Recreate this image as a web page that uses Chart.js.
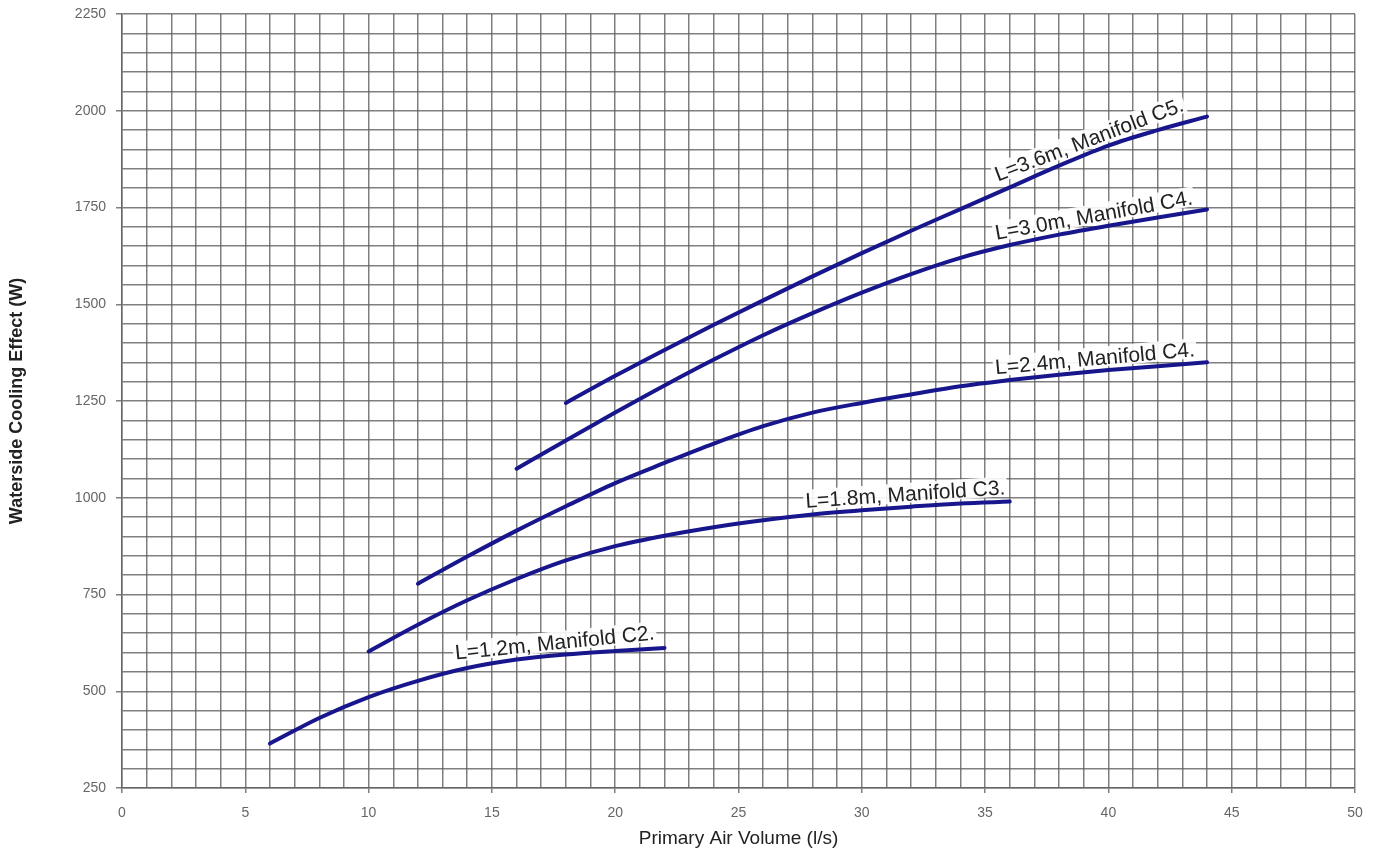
<!DOCTYPE html>
<html lang="en">
<head>
<meta charset="utf-8">
<title>Waterside Cooling Effect</title>
<script src="https://cdn.jsdelivr.net/npm/chart.js@4"></script>
<style>
  html, body { margin: 0; padding: 0; background: #fff; }
  #wrap { width: 1381px; height: 855px; }
</style>
</head>
<body>
<div id="wrap"><canvas id="myChart"></canvas></div>
<script>
// values (x = l/s, y = W)
const x_c2 = [6, 8, 10, 12, 14, 16, 18, 20, 22];
const y_c2 = [365, 431, 485, 527, 560, 582, 595, 604, 612];

const x_c3 = [10, 12, 14, 16, 18, 20, 22, 24, 26, 28, 30, 32, 34, 36];
const y_c3 = [603, 672, 735, 790, 838, 875, 902, 924, 942, 957, 968, 977, 985, 990];

const x_24 = [12, 14, 16, 18, 20, 22, 24, 26, 28, 30, 32, 34, 36, 38, 40, 42, 44];
const y_24 = [778, 848, 915, 978, 1038, 1090, 1140, 1185, 1220, 1245, 1267, 1288, 1304, 1318, 1330, 1340, 1350];

const x_30 = [16, 18, 20, 22, 24, 26, 28, 30, 32, 34, 36, 38, 40, 42, 44];
const y_30 = [1075, 1148, 1220, 1290, 1357, 1420, 1477, 1530, 1578, 1620, 1653, 1680, 1703, 1724, 1745];

const x_36 = [18, 20, 22, 24, 26, 28, 30, 32, 34, 36, 38, 40, 42, 44];
const y_36 = [1245, 1315, 1382, 1447, 1510, 1572, 1632, 1690, 1746, 1802, 1858, 1910, 1950, 1985];

const curve_names = ["L=1.2m, Manifold C2.", "L=1.8m, Manifold C3.", "L=2.4m, Manifold C4.", "L=3.0m, Manifold C4.", "L=3.6m, Manifold C5."];
const curve_x = [x_c2, x_c3, x_24, x_30, x_36];
const curve_y = [y_c2, y_c3, y_24, y_30, y_36];
// where along each curve the text sits (x value of the text centre)
const label_at = [17.6, 31.8, 39.5, 39.5, 39.4];

const LINE_COL = '#17168c';
const GRID_COL = 'rgba(95,95,95,0.8)';
const FONT = 'Arial, "Liberation Sans", sans-serif';

function interp(xs, ys, x){
	for(let i = 0; i < xs.length - 1; i++){
		if(x >= xs[i] && x <= xs[i+1]){
			const t = (x - xs[i]) / (xs[i+1] - xs[i]);
			return ys[i] + t * (ys[i+1] - ys[i]);
		}
	}
	return x < xs[0] ? ys[0] : ys[ys.length-1];
}

// draws the rotated curve names just above each line
const curveLabels = {
	id: 'curveLabels',
	afterDatasetsDraw(chart){
		const ctx = chart.ctx;
		const xs = chart.scales.x, ys = chart.scales.y;
		ctx.save();
		ctx.font = '21px ' + FONT;
		for(let i = 0; i < curve_names.length; i++){
			const cx = label_at[i];
			const a = [xs.getPixelForValue(cx - 2.5), ys.getPixelForValue(interp(curve_x[i], curve_y[i], cx - 2.5))];
			const b = [xs.getPixelForValue(cx + 2.5), ys.getPixelForValue(interp(curve_x[i], curve_y[i], cx + 2.5))];
			const ang = Math.atan2(b[1] - a[1], b[0] - a[0]);
			const px = xs.getPixelForValue(cx);
			const py = ys.getPixelForValue(interp(curve_x[i], curve_y[i], cx));
			const w = ctx.measureText(curve_names[i]).width;
			ctx.save();
			ctx.translate(px, py);
			ctx.rotate(ang);
			ctx.fillStyle = 'rgba(255,255,255,0.9)';
			ctx.fillRect(-w/2 - 2, -24, w + 4, 20);
			ctx.fillStyle = '#222';
			ctx.textAlign = 'center';
			ctx.textBaseline = 'alphabetic';
			ctx.fillText(curve_names[i], 0, -6);
			ctx.restore();
		}
		ctx.restore();
	}
};

const datasets = curve_names.map((name, i) => ({
	label: name,
	data: curve_x[i].map((x, j) => ({x: x, y: curve_y[i][j]})),
	borderColor: LINE_COL,
	backgroundColor: LINE_COL,
	borderWidth: 4,
	pointRadius: 0,
	cubicInterpolationMode: 'monotone',
	borderCapStyle: 'round',
	fill: false
}));

const config = {
	type: 'line',
	data: { datasets: datasets },
	plugins: [curveLabels],
	options: {
		responsive: true,
		maintainAspectRatio: false,
		animation: false,
		layout: { padding: { top: 14, right: 26, left: 0, bottom: 0 } },
		plugins: {
			legend: { display: false },
			tooltip: { enabled: false }
		},
		scales: {
			x: {
				type: 'linear',
				min: 0, max: 50,
				afterFit: (s) => { s.height = 67; s.paddingLeft = 0; s.paddingRight = 0; },
				border: { color: GRID_COL, width: 1.5 },
				grid: {
					color: GRID_COL,
					lineWidth: 1.5,
					tickLength: 5,
					tickColor: (c) => (c.tick && c.tick.value % 5 === 0) ? GRID_COL : 'rgba(0,0,0,0)'
				},
				ticks: {
					stepSize: 1,
					autoSkip: false,
					maxRotation: 0,
					padding: 12,
					color: '#666',
					font: { family: FONT, size: 14 },
					callback: (v) => v % 5 === 0 ? v : ''
				},
				title: {
					display: true,
					text: 'Primary Air Volume (l/s)',
					color: '#222',
					font: { family: FONT, size: 19 },
					padding: { top: 0, bottom: 5 }
				}
			},
			y: {
				type: 'linear',
				min: 250, max: 2250,
				// fixed axis width, and let the layout padding decide the top
				afterFit: (s) => { s.width = 122; s.paddingTop = 0; s.paddingBottom = 0; },
				border: { color: GRID_COL, width: 1.5 },
				grid: {
					color: GRID_COL,
					lineWidth: 1.5,
					tickLength: 6,
					tickColor: (c) => (c.tick && c.tick.value % 250 === 0) ? GRID_COL : 'rgba(0,0,0,0)'
				},
				ticks: {
					stepSize: 50,
					autoSkip: false,
					padding: 10,
					color: '#666',
					font: { family: FONT, size: 14 },
					callback: (v) => v % 250 === 0 ? v : ''
				},
				title: {
					display: true,
					text: 'Waterside Cooling Effect (W)',
					color: '#222',
					font: { family: FONT, size: 18, weight: 'bold' },
					padding: { top: 6, bottom: 12 }
				}
			}
		}
	}
};

const myChart = new Chart(document.getElementById('myChart'), config);
</script>
</body>
</html>
